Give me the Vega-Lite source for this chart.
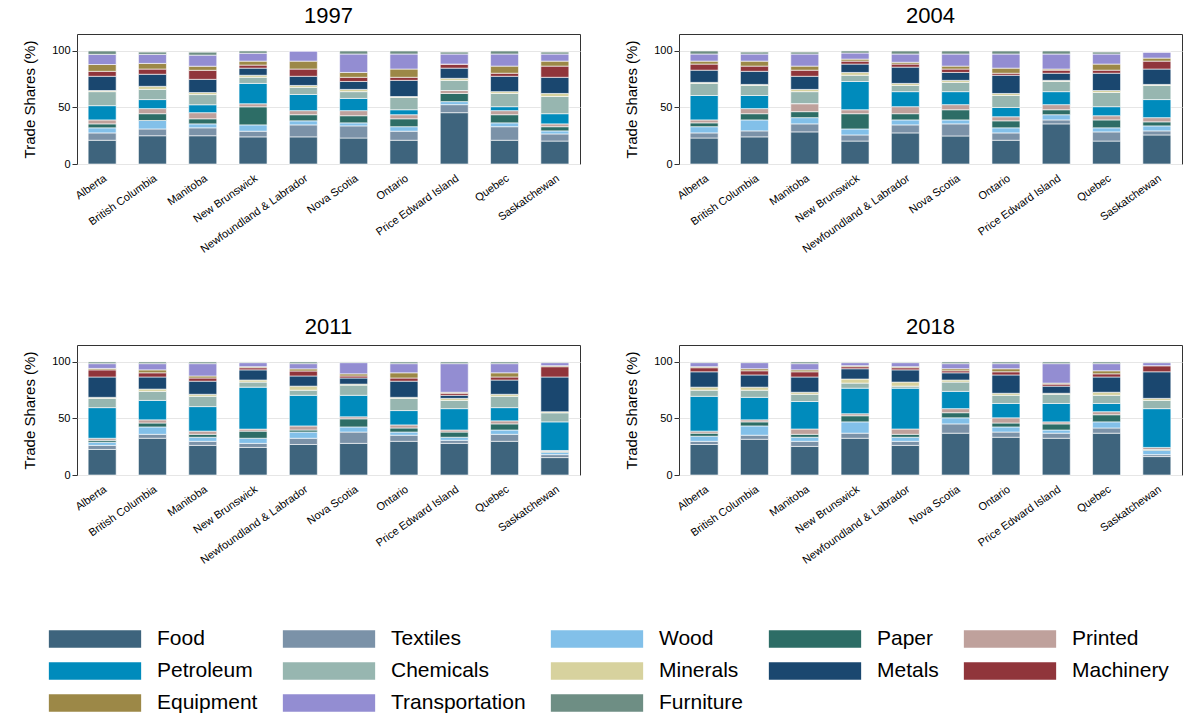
{
  "$schema": "https://vega.github.io/schema/vega-lite/v6.json",
  "background": "white",
  "padding": {"left": 22, "top": 4, "right": 5, "bottom": 5},
  "config": {
    "font": "Liberation Sans",
    "view": {"stroke": "#333", "strokeWidth": 1},
    "axis": {"labelFont": "Liberation Sans", "titleFont": "Liberation Sans", "gridColor": "#e6e6e6", "domain": false, "tickColor": "#333"},
    "header": {"labelFont": "Liberation Sans", "labelFontSize": 22, "labelColor": "#000", "labelPadding": 6}
  },
  "data": {
    "values": [
      {"year": "1997", "prov": "Alberta", "Food": 21, "Textiles": 6.5, "Wood": 4.5, "Paper": 3.5, "Printed": 3.5, "Petroleum": 12.6, "Chemicals": 12.4, "Minerals": 1, "Metals": 12.6, "Machinery": 4.4, "Equipment": 6, "Transportation": 9, "Furniture": 3},
      {"year": "1997", "prov": "British Columbia", "Food": 25, "Textiles": 6, "Wood": 7.5, "Paper": 6, "Printed": 4.5, "Petroleum": 8, "Chemicals": 9, "Minerals": 2.7, "Metals": 10.7, "Machinery": 4.6, "Equipment": 5, "Transportation": 8, "Furniture": 2},
      {"year": "1997", "prov": "Manitoba", "Food": 25, "Textiles": 7, "Wood": 3.5, "Paper": 4.5, "Printed": 5.4, "Petroleum": 7, "Chemicals": 9, "Minerals": 1.8, "Metals": 11.7, "Machinery": 8, "Equipment": 3.6, "Transportation": 9.8, "Furniture": 2.6},
      {"year": "1997", "prov": "New Brunswick", "Food": 24, "Textiles": 5, "Wood": 5.6, "Paper": 16, "Printed": 2.7, "Petroleum": 18, "Chemicals": 5.4, "Minerals": 1.8, "Metals": 6.3, "Machinery": 2.7, "Equipment": 3.5, "Transportation": 7, "Furniture": 2},
      {"year": "1997", "prov": "Newfoundland & Labrador", "Food": 24, "Textiles": 10.6, "Wood": 3.6, "Paper": 5.4, "Printed": 3.6, "Petroleum": 14.3, "Chemicals": 6.3, "Minerals": 1.7, "Metals": 8.1, "Machinery": 6.4, "Equipment": 7, "Transportation": 9, "Furniture": 0},
      {"year": "1997", "prov": "Nova Scotia", "Food": 23, "Textiles": 10.7, "Wood": 2.7, "Paper": 6.3, "Printed": 4.5, "Petroleum": 10.8, "Chemicals": 6, "Minerals": 2, "Metals": 7, "Machinery": 3.7, "Equipment": 4.3, "Transportation": 16.3, "Furniture": 2.7},
      {"year": "1997", "prov": "Ontario", "Food": 21, "Textiles": 8, "Wood": 4, "Paper": 7, "Printed": 3.6, "Petroleum": 4.4, "Chemicals": 10.8, "Minerals": 0.9, "Metals": 14.3, "Machinery": 2.7, "Equipment": 7.3, "Transportation": 13.3, "Furniture": 2.7},
      {"year": "1997", "prov": "Price Edward Island", "Food": 45.4, "Textiles": 7.1, "Wood": 2.7, "Paper": 7.2, "Printed": 2.6, "Petroleum": 0, "Chemicals": 9, "Minerals": 1.8, "Metals": 9, "Machinery": 3.6, "Equipment": 0, "Transportation": 8.9, "Furniture": 1.7},
      {"year": "1997", "prov": "Quebec", "Food": 21, "Textiles": 12, "Wood": 3.4, "Paper": 7.2, "Printed": 3.6, "Petroleum": 3.5, "Chemicals": 11.7, "Minerals": 1.6, "Metals": 13.6, "Machinery": 2.7, "Equipment": 6.3, "Transportation": 10.7, "Furniture": 2.7},
      {"year": "1997", "prov": "Saskatchewan", "Food": 20.3, "Textiles": 6.3, "Wood": 2.7, "Paper": 3.7, "Printed": 2.5, "Petroleum": 9, "Chemicals": 15.2, "Minerals": 2.7, "Metals": 14.3, "Machinery": 9.9, "Equipment": 4.4, "Transportation": 6.3, "Furniture": 1.7},
      {"year": "2004", "prov": "Alberta", "Food": 23, "Textiles": 4.5, "Wood": 5.5, "Paper": 3.4, "Printed": 2.6, "Petroleum": 21.6, "Chemicals": 10.7, "Minerals": 0.9, "Metals": 10.8, "Machinery": 5.4, "Equipment": 2.6, "Transportation": 6.3, "Furniture": 2.7},
      {"year": "2004", "prov": "British Columbia", "Food": 24, "Textiles": 5.3, "Wood": 9.7, "Paper": 5.5, "Printed": 4.5, "Petroleum": 11.6, "Chemicals": 8.9, "Minerals": 0.9, "Metals": 11.6, "Machinery": 4.6, "Equipment": 4.4, "Transportation": 6.3, "Furniture": 1.7},
      {"year": "2004", "prov": "Manitoba", "Food": 28.4, "Textiles": 7.1, "Wood": 5.5, "Paper": 5.3, "Printed": 7.1, "Petroleum": 0, "Chemicals": 10.6, "Minerals": 2, "Metals": 11.6, "Machinery": 5.4, "Equipment": 3.6, "Transportation": 10.7, "Furniture": 1.7},
      {"year": "2004", "prov": "New Brunswick", "Food": 20.3, "Textiles": 5.4, "Wood": 5.3, "Paper": 13.5, "Printed": 3.5, "Petroleum": 25, "Chemicals": 5.5, "Minerals": 2.5, "Metals": 7.4, "Machinery": 2.6, "Equipment": 1.8, "Transportation": 5.4, "Furniture": 1.8},
      {"year": "2004", "prov": "Newfoundland & Labrador", "Food": 27.5, "Textiles": 7.1, "Wood": 4.4, "Paper": 5.5, "Printed": 6.2, "Petroleum": 13.3, "Chemicals": 5.5, "Minerals": 1.8, "Metals": 14.4, "Machinery": 2.7, "Equipment": 1.6, "Transportation": 7.3, "Furniture": 2.7},
      {"year": "2004", "prov": "Nova Scotia", "Food": 24.8, "Textiles": 10.7, "Wood": 3.5, "Paper": 9, "Printed": 4.5, "Petroleum": 11.5, "Chemicals": 8.2, "Minerals": 1.8, "Metals": 7, "Machinery": 3, "Equipment": 2.6, "Transportation": 10.7, "Furniture": 2.7},
      {"year": "2004", "prov": "Ontario", "Food": 21, "Textiles": 6.5, "Wood": 4.5, "Paper": 6.2, "Printed": 3.6, "Petroleum": 8.2, "Chemicals": 10.6, "Minerals": 1.8, "Metals": 16.1, "Machinery": 1.8, "Equipment": 4.5, "Transportation": 12.5, "Furniture": 2.7},
      {"year": "2004", "prov": "Price Edward Island", "Food": 35.5, "Textiles": 3.5, "Wood": 4.6, "Paper": 4.4, "Printed": 4.5, "Petroleum": 11.5, "Chemicals": 9, "Minerals": 1, "Metals": 6.3, "Machinery": 2.7, "Equipment": 1, "Transportation": 13.3, "Furniture": 2.7},
      {"year": "2004", "prov": "Quebec", "Food": 20.3, "Textiles": 8.1, "Wood": 3.6, "Paper": 7, "Printed": 3.7, "Petroleum": 8, "Chemicals": 12.6, "Minerals": 1.7, "Metals": 15.3, "Machinery": 2.7, "Equipment": 5.4, "Transportation": 8.9, "Furniture": 1.7},
      {"year": "2004", "prov": "Saskatchewan", "Food": 25.7, "Textiles": 3.6, "Wood": 4.4, "Paper": 3.6, "Printed": 3.7, "Petroleum": 16, "Chemicals": 12.5, "Minerals": 0.9, "Metals": 13.6, "Machinery": 7, "Equipment": 2.7, "Transportation": 5.3, "Furniture": 0},
      {"year": "2011", "prov": "Alberta", "Food": 22.6, "Textiles": 3.6, "Wood": 2.8, "Paper": 1.7, "Printed": 1.8, "Petroleum": 27.1, "Chemicals": 8.2, "Minerals": 0.9, "Metals": 18, "Machinery": 6.3, "Equipment": 1.3, "Transportation": 4.2, "Furniture": 1.5},
      {"year": "2011", "prov": "British Columbia", "Food": 32.5, "Textiles": 3.5, "Wood": 6.5, "Paper": 3.5, "Printed": 2.8, "Petroleum": 17.2, "Chemicals": 8, "Minerals": 2, "Metals": 10.7, "Machinery": 3.7, "Equipment": 2.6, "Transportation": 5.5, "Furniture": 1.5},
      {"year": "2011", "prov": "Manitoba", "Food": 26.2, "Textiles": 3.6, "Wood": 3.6, "Paper": 2.6, "Printed": 2.8, "Petroleum": 21.7, "Chemicals": 9.1, "Minerals": 1.8, "Metals": 11.6, "Machinery": 2.8, "Equipment": 1.8, "Transportation": 10.9, "Furniture": 1.5},
      {"year": "2011", "prov": "New Brunswick", "Food": 24.4, "Textiles": 3.6, "Wood": 4.5, "Paper": 6.3, "Printed": 1.8, "Petroleum": 37.1, "Chemicals": 4.5, "Minerals": 1.8, "Metals": 9, "Machinery": 1.9, "Equipment": 0.9, "Transportation": 3.6, "Furniture": 0.6},
      {"year": "2011", "prov": "Newfoundland & Labrador", "Food": 27, "Textiles": 5.5, "Wood": 5.5, "Paper": 1.8, "Printed": 3.6, "Petroleum": 27.1, "Chemicals": 4.5, "Minerals": 3.6, "Metals": 9, "Machinery": 4.4, "Equipment": 1.9, "Transportation": 4.6, "Furniture": 1.5},
      {"year": "2011", "prov": "Nova Scotia", "Food": 28, "Textiles": 10, "Wood": 4.5, "Paper": 7.2, "Printed": 1.8, "Petroleum": 19, "Chemicals": 9, "Minerals": 0.9, "Metals": 5.4, "Machinery": 1.8, "Equipment": 1.9, "Transportation": 9.9, "Furniture": 0.6},
      {"year": "2011", "prov": "Ontario", "Food": 29.8, "Textiles": 5.4, "Wood": 2.8, "Paper": 3.6, "Printed": 2.7, "Petroleum": 12.7, "Chemicals": 10.8, "Minerals": 0.9, "Metals": 14.3, "Machinery": 2.8, "Equipment": 4.6, "Transportation": 8.1, "Furniture": 1.5},
      {"year": "2011", "prov": "Price Edward Island", "Food": 28, "Textiles": 2.7, "Wood": 2.7, "Paper": 4.6, "Printed": 1.8, "Petroleum": 18.9, "Chemicals": 7.3, "Minerals": 1.8, "Metals": 2.7, "Machinery": 1.8, "Equipment": 0.9, "Transportation": 25.3, "Furniture": 1.5},
      {"year": "2011", "prov": "Quebec", "Food": 29.8, "Textiles": 6.2, "Wood": 3.8, "Paper": 5.4, "Printed": 2.7, "Petroleum": 11.7, "Chemicals": 10, "Minerals": 1.8, "Metals": 12.6, "Machinery": 2.7, "Equipment": 3.7, "Transportation": 8.1, "Furniture": 1.5},
      {"year": "2011", "prov": "Saskatchewan", "Food": 15.4, "Textiles": 2.6, "Wood": 1.9, "Paper": 0.9, "Printed": 0.9, "Petroleum": 25.3, "Chemicals": 8, "Minerals": 1, "Metals": 30.7, "Machinery": 9.1, "Equipment": 0.9, "Transportation": 2.7, "Furniture": 0.6},
      {"year": "2018", "prov": "Alberta", "Food": 27, "Textiles": 2.8, "Wood": 4.5, "Paper": 2.7, "Printed": 1.8, "Petroleum": 30.8, "Chemicals": 5.4, "Minerals": 2.7, "Metals": 13.6, "Machinery": 3.6, "Equipment": 0.9, "Transportation": 3.6, "Furniture": 0.6},
      {"year": "2018", "prov": "British Columbia", "Food": 31.6, "Textiles": 3.6, "Wood": 8.2, "Paper": 3.6, "Printed": 1.8, "Petroleum": 19.9, "Chemicals": 6.3, "Minerals": 2.7, "Metals": 10.8, "Machinery": 3.7, "Equipment": 1.8, "Transportation": 5.4, "Furniture": 0.6},
      {"year": "2018", "prov": "Manitoba", "Food": 25.3, "Textiles": 4.5, "Wood": 3.6, "Paper": 2.6, "Printed": 4.7, "Petroleum": 24.3, "Chemicals": 6.4, "Minerals": 1.8, "Metals": 13.5, "Machinery": 4.6, "Equipment": 1.7, "Transportation": 5.5, "Furniture": 1.5},
      {"year": "2018", "prov": "New Brunswick", "Food": 32.5, "Textiles": 4.5, "Wood": 10, "Paper": 5.4, "Printed": 1.8, "Petroleum": 22.6, "Chemicals": 4.5, "Minerals": 3.6, "Metals": 9.1, "Machinery": 1.8, "Equipment": 0.9, "Transportation": 2.7, "Furniture": 0.6},
      {"year": "2018", "prov": "Newfoundland & Labrador", "Food": 26.2, "Textiles": 3.6, "Wood": 3.6, "Paper": 2.6, "Printed": 4.7, "Petroleum": 36.1, "Chemicals": 1.8, "Minerals": 3.6, "Metals": 10.8, "Machinery": 1.9, "Equipment": 0.9, "Transportation": 3.6, "Furniture": 0.6},
      {"year": "2018", "prov": "Nova Scotia", "Food": 37, "Textiles": 8.2, "Wood": 5.4, "Paper": 4.5, "Printed": 3.6, "Petroleum": 15.3, "Chemicals": 8.2, "Minerals": 1.8, "Metals": 6.4, "Machinery": 1.8, "Equipment": 1.8, "Transportation": 4.5, "Furniture": 1.5},
      {"year": "2018", "prov": "Ontario", "Food": 33.4, "Textiles": 4.6, "Wood": 4.5, "Paper": 3.5, "Printed": 4.6, "Petroleum": 12.7, "Chemicals": 7.2, "Minerals": 1.8, "Metals": 16.2, "Machinery": 2.8, "Equipment": 2.7, "Transportation": 4.5, "Furniture": 1.5},
      {"year": "2018", "prov": "Price Edward Island", "Food": 32.5, "Textiles": 4.5, "Wood": 2.8, "Paper": 5.4, "Printed": 1.8, "Petroleum": 16.3, "Chemicals": 8.1, "Minerals": 0.9, "Metals": 6.3, "Machinery": 1.8, "Equipment": 0.9, "Transportation": 17.2, "Furniture": 1.5},
      {"year": "2018", "prov": "Quebec", "Food": 37, "Textiles": 4.6, "Wood": 5.4, "Paper": 6.3, "Printed": 2.7, "Petroleum": 7.3, "Chemicals": 7.2, "Minerals": 2.7, "Metals": 13.5, "Machinery": 2.8, "Equipment": 2.7, "Transportation": 6.3, "Furniture": 1.5},
      {"year": "2018", "prov": "Saskatchewan", "Food": 16.3, "Textiles": 1.7, "Wood": 3.7, "Paper": 0.9, "Printed": 1.8, "Petroleum": 34.3, "Chemicals": 7.3, "Minerals": 1.8, "Metals": 23.5, "Machinery": 5.4, "Equipment": 0, "Transportation": 2.7, "Furniture": 0.6}
    ]
  },
  "transform": [
    {"fold": ["Food", "Textiles", "Wood", "Paper", "Printed", "Petroleum", "Chemicals", "Minerals", "Metals", "Machinery", "Equipment", "Transportation", "Furniture"], "as": ["sector", "share"]},
    {"lookup": "sector", "from": {"data": {"values": [
      {"sector": "Food", "rank": 1}, {"sector": "Textiles", "rank": 2}, {"sector": "Wood", "rank": 3}, {"sector": "Paper", "rank": 4}, {"sector": "Printed", "rank": 5},
      {"sector": "Petroleum", "rank": 6}, {"sector": "Chemicals", "rank": 7}, {"sector": "Minerals", "rank": 8}, {"sector": "Metals", "rank": 9}, {"sector": "Machinery", "rank": 10},
      {"sector": "Equipment", "rank": 11}, {"sector": "Transportation", "rank": 12}, {"sector": "Furniture", "rank": 13}
    ]}, "key": "sector", "fields": ["rank"]}}
  ],
  "columns": 2,
  "spacing": {"column": 43, "row": 60},
  "resolve": {"axis": {"x": "independent", "y": "independent"}},
  "facet": {"field": "year", "type": "nominal", "title": null, "header": {"labelFontSize": 22}},
  "spec": {
    "width": 503,
    "height": 130,
    "mark": {"type": "bar", "width": 28, "stroke": "white", "strokeWidth": 0.6},
    "encoding": {
      "x": {
        "field": "prov", "type": "nominal", "title": null,
        "axis": {"labelAngle": -35, "labelFontSize": 11, "ticks": false, "labelPadding": 8, "labelColor": "#000"}
      },
      "y": {
        "field": "share", "type": "quantitative", "stack": "zero", "title": "Trade Shares (%)",
        "scale": {"domain": [0, 115], "nice": false},
        "axis": {"values": [0, 50, 100], "titleFontSize": 15, "titleFontWeight": "normal", "labelFontSize": 11, "labelColor": "#000", "titleColor": "#000", "titlePadding": 14}
      },
      "order": {"field": "rank", "type": "quantitative", "sort": "ascending"},
      "color": {
        "field": "sector", "type": "nominal", "title": null,
        "sort": ["Food", "Textiles", "Wood", "Paper", "Printed", "Petroleum", "Chemicals", "Minerals", "Metals", "Machinery", "Equipment", "Transportation", "Furniture"],
        "scale": {
          "domain": ["Food", "Textiles", "Wood", "Paper", "Printed", "Petroleum", "Chemicals", "Minerals", "Metals", "Machinery", "Equipment", "Transportation", "Furniture"],
          "range": ["#3e647d", "#7b92a8", "#82c0e9", "#2d6d66", "#bfa19c", "#008bbc", "#97b6b0", "#d7d29e", "#1a476f", "#90353b", "#9c8847", "#938dd2", "#6e8e84"]
        },
        "legend": {
          "orient": "bottom", "direction": "horizontal", "columns": 5,
          "symbolType": "M-2.6,-0.5H2.6V0.5H-2.6Z", "symbolSize": 1260, "symbolStrokeWidth": 0, "symbolOpacity": 1,
          "labelFontSize": 21, "labelLimit": 250, "labelColor": "#000", "labelOffset": 44,
          "columnPadding": 24, "rowPadding": 4, "offset": 55
        }
      }
    }
  }
}
